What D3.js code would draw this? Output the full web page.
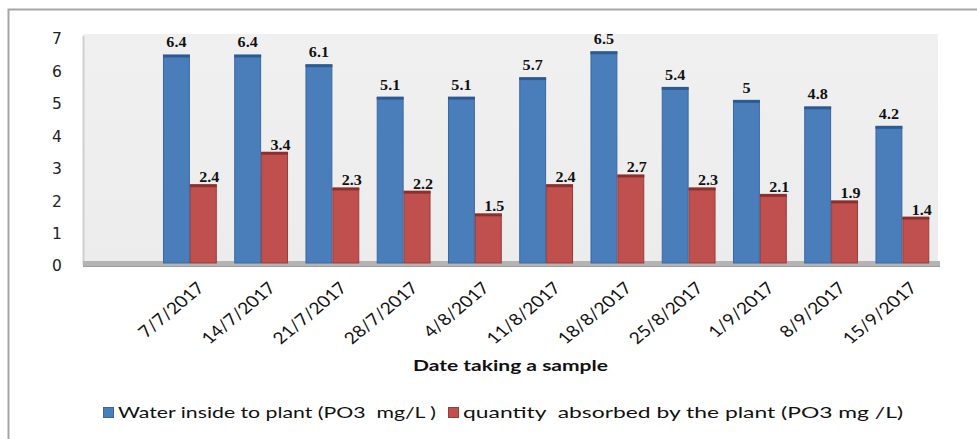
<!DOCTYPE html>
<html>
<head>
<meta charset="utf-8">
<script src="https://cdn.jsdelivr.net/npm/d3@7"></script>
<style>
  html, body { margin: 0; padding: 0; background: #ffffff; }
  svg { display: block; }
</style>
</head>
<body>
<svg id="chart" width="977" height="439"></svg>
<script>
// Sampling dates (the first slot of the category axis is left blank)
const categories = ["", "7/7/2017", "14/7/2017", "21/7/2017", "28/7/2017", "4/8/2017",
  "11/8/2017", "18/8/2017", "25/8/2017", "1/9/2017", "8/9/2017", "15/9/2017"];

// PO3 (mg/L) in the water inside the plant
const waterInside = [null, 6.4, 6.4, 6.1, 5.1, 5.1, 5.7, 6.5, 5.4, 5, 4.8, 4.2];

// PO3 (mg/L) absorbed by the plant
const absorbed = [null, 2.4, 3.4, 2.3, 2.2, 1.5, 2.4, 2.7, 2.3, 2.1, 1.9, 1.4];

const yTicks = [0, 1, 2, 3, 4, 5, 6, 7];

const seriesNames = ["Water inside to plant (PO3  mg/L )", "quantity  absorbed by the plant (PO3 mg /L)"];

const svg = d3.select("#chart");

const plot = { left: 83, right: 938, top: 34, bottom: 263 };

// Chart area frame
svg.append("rect")
  .attr("x", 8.5).attr("y", 9.5)
  .attr("width", 1000).attr("height", 500)
  .attr("fill", "#ffffff")
  .attr("stroke", "#a6a6a6").attr("stroke-width", 2);

const x0 = d3.scaleBand()
  .domain(d3.range(categories.length))
  .range([plot.left, plot.right])
  .paddingInner(0.245)
  .paddingOuter(0.1225);

const x1 = d3.scaleBand()
  .domain([0, 1])
  .range([0, x0.bandwidth()]);

const y = d3.scaleLinear().domain([0, 7]).range([plot.bottom, 36]);

// Back wall
const wallGrad = svg.append("defs").append("linearGradient")
  .attr("id", "wall").attr("x1", 0).attr("y1", 0).attr("x2", 0).attr("y2", 1);
wallGrad.append("stop").attr("offset", "0%").attr("stop-color", "#f0f0f0");
wallGrad.append("stop").attr("offset", "100%").attr("stop-color", "#ececec");

svg.append("rect")
  .attr("x", plot.left).attr("y", plot.top)
  .attr("width", plot.right - plot.left).attr("height", plot.bottom - plot.top)
  .attr("fill", "url(#wall)");

// Side wall edge
svg.append("line")
  .attr("x1", plot.left + 0.5).attr("x2", plot.left + 0.5)
  .attr("y1", plot.top + 2).attr("y2", plot.bottom + 2)
  .attr("stroke", "#cfcfcf").attr("stroke-width", 2);

// Floor
svg.append("rect")
  .attr("x", plot.left).attr("y", plot.bottom - 2)
  .attr("width", plot.right - plot.left + 2).attr("height", 6)
  .attr("fill", "#b4b4b4");
svg.append("line")
  .attr("x1", plot.left).attr("x2", plot.right + 2)
  .attr("y1", plot.bottom + 3.5).attr("y2", plot.bottom + 3.5)
  .attr("stroke", "#9c9c9c").attr("stroke-width", 1);

// Y axis labels
const yAxis = d3.axisLeft(y).tickValues(yTicks).tickSize(0).tickPadding(0).tickFormat(d3.format("d"));
const yG = svg.append("g").attr("transform", `translate(64,3)`).call(yAxis);
yG.select(".domain").remove();
yG.selectAll("text")
  .attr("font-family", "'DejaVu Sans', sans-serif")
  .attr("font-size", 15.5)
  .attr("fill", "#222")
  .attr("text-anchor", "middle")
  .attr("x", -7);

const series = [
  { values: waterInside, fill: "#4a7ebb", stroke: "#3a67a2", cap: "#2c5a92", labelDx: 0, labelDy: -8 },
  { values: absorbed, fill: "#c0504d", stroke: "#9b3c39", cap: "#8c302d", labelDx: 6, labelDy: -3 }
];

series.forEach((s, si) => {
  const g = svg.append("g");
  const data = s.values.map((v, i) => ({ v, i })).filter(d => d.v !== null);

  g.selectAll("rect.bar")
    .data(data)
    .join("rect")
    .attr("class", "bar")
    .attr("x", d => x0(d.i) + x1(si) + 0.5)
    .attr("y", d => y(d.v))
    .attr("width", x1.bandwidth() - 1)
    .attr("height", d => y(0) - y(d.v))
    .attr("fill", s.fill)
    .attr("stroke", s.stroke)
    .attr("stroke-width", 1);

  // Top face of each bar
  g.selectAll("rect.cap")
    .data(data)
    .join("rect")
    .attr("class", "cap")
    .attr("x", d => x0(d.i) + x1(si))
    .attr("y", d => y(d.v) - 1)
    .attr("width", x1.bandwidth())
    .attr("height", 3)
    .attr("fill", s.cap);

  g.selectAll("text.val")
    .data(data)
    .join("text")
    .attr("class", "val")
    .attr("transform", d => `translate(${x0(d.i) + x1(si) + x1.bandwidth() / 2 + s.labelDx},${y(d.v) + s.labelDy}) scale(1.15,1)`)
    .attr("text-anchor", "middle")
    .attr("font-family", "'Liberation Serif', 'Times New Roman', serif")
    .attr("font-weight", "bold")
    .attr("font-size", 14)
    .attr("fill", "#111")
    .text(d => String(d.v));
});

// X axis labels, slanted
const xG = svg.append("g");
xG.selectAll("text")
  .data(categories.map((c, i) => ({ c, i })).filter(d => d.c !== ""))
  .join("text")
  .attr("transform", d => `translate(${x0(d.i) + x0.bandwidth() / 2 + 11},${285}) scale(1.2,1) rotate(-45)`)
  .attr("text-anchor", "end")
  .attr("dy", "0.35em")
  .attr("font-family", "Lato, 'Open Sans', sans-serif")
  .attr("font-size", 16)
  .attr("fill", "#111")
  .text(d => d.c);

// Axis title
svg.append("text")
  .attr("x", 413).attr("y", 371)
  .attr("font-family", "Lato, 'Open Sans', sans-serif")
  .attr("font-weight", "bold")
  .attr("font-size", 16)
  .attr("fill", "#111")
  .attr("textLength", 195)
  .attr("lengthAdjust", "spacingAndGlyphs")
  .text("Date taking a sample");

// Legend
const legend = [
  { name: seriesNames[0], fill: series[0].fill, stroke: series[0].stroke, x: 103, w: 318 },
  { name: seriesNames[1], fill: series[1].fill, stroke: series[1].stroke, x: 448, w: 440 }
];
const lg = svg.append("g");
legend.forEach(l => {
  lg.append("rect")
    .attr("x", l.x + 0.5).attr("y", 407.5)
    .attr("width", 10).attr("height", 10)
    .attr("fill", l.fill).attr("stroke", l.stroke);
  lg.append("text")
    .attr("x", l.x + 15).attr("y", 418)
    .attr("font-family", "Lato, 'Open Sans', sans-serif")
    .attr("font-size", 16)
    .attr("fill", "#111")
    .style("white-space", "pre")
    .attr("textLength", l.w)
    .attr("lengthAdjust", "spacingAndGlyphs")
    .text(l.name);
});
</script>
</body>
</html>
